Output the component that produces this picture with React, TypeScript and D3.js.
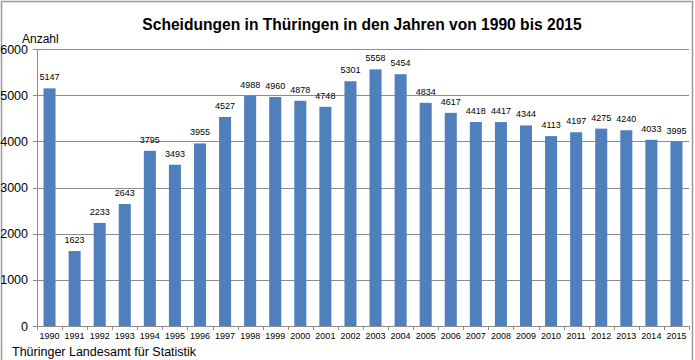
import React from "react";
import * as d3 from "d3";

const years = ["1990","1991","1992","1993","1994","1995","1996","1997","1998","1999","2000","2001","2002","2003","2004","2005","2006","2007","2008","2009","2010","2011","2012","2013","2014","2015"];
const values = [5147,1623,2233,2643,3795,3493,3955,4527,4988,4960,4878,4748,5301,5558,5454,4834,4617,4418,4417,4344,4113,4197,4275,4240,4033,3995];
const yTicks = [0,1000,2000,3000,4000,5000,6000];

const W = 695, H = 360;
const left = 37, right = 689, top = 49, bottom = 326;
const font = "'Liberation Sans', Arial, sans-serif";

export default function App() {
  const x = d3.scaleBand<string>().domain(years).range([left, right]).paddingInner(0.52).paddingOuter(0.26);
  const y = d3.scaleLinear().domain([0, 6000]).range([bottom, top]);
  const step = x.step();
  const band0 = d3.scaleBand<string>().domain(years).range([left, right]);
  return (
    <svg width={W} height={H} style={{ position: "absolute", left: 0, top: 0, background: "#fff" }} fontFamily={font}>
      <rect x={0} y={0} width={W} height={H} fill="#fff" />
      <rect x={1.5} y={1.5} width={691} height={H + 5} fill="none" stroke="#9a9a9a" strokeWidth={1.5} />
      <text x={362} y={30} textAnchor="middle" fontSize={15.6} fontWeight="bold" fill="#000">Scheidungen in Thüringen in den Jahren von 1990 bis 2015</text>
      <text x={22} y={43} fontSize={12} fill="#000">Anzahl</text>
      {yTicks.map(t => (
        <g key={t}>
          {t > 0 && <line x1={left} x2={right} y1={Math.round(y(t)) + 0.5} y2={Math.round(y(t)) + 0.5} stroke="#8c8c8c" strokeWidth={1} />}
          <line x1={33} x2={left} y1={Math.round(y(t)) + 0.5} y2={Math.round(y(t)) + 0.5} stroke="#8c8c8c" />
          <text x={28} y={y(t) + 4.5} textAnchor="end" fontSize={12.5} fill="#000">{t}</text>
        </g>
      ))}
      {years.map((yr, i) => (
        <g key={yr}>
          <rect x={x(yr)} y={y(values[i])} width={x.bandwidth()} height={bottom - y(values[i])} fill="#4f80bd" />
          <text x={(x(yr) as number) + x.bandwidth() / 2} y={y(values[i]) - 8} textAnchor="middle" fontSize={9} fill="#000">{values[i]}</text>
          <text x={(band0(yr) as number) + step / 2} y={339} textAnchor="middle" fontSize={9} fill="#000">{yr}</text>
        </g>
      ))}
      {d3.range(years.length + 1).map(i => (
        <line key={i} x1={Math.round(left + i * step) + 0.5} x2={Math.round(left + i * step) + 0.5} y1={bottom} y2={bottom + 4} stroke="#8c8c8c" />
      ))}
      <line x1={left + 0.5} x2={left + 0.5} y1={top} y2={bottom} stroke="#8c8c8c" />
      <line x1={left} x2={right} y1={bottom + 0.5} y2={bottom + 0.5} stroke="#8c8c8c" />
      <text x={12} y={356} fontSize={12.5} fill="#000">Thüringer Landesamt für Statistik</text>
    </svg>
  );
}
